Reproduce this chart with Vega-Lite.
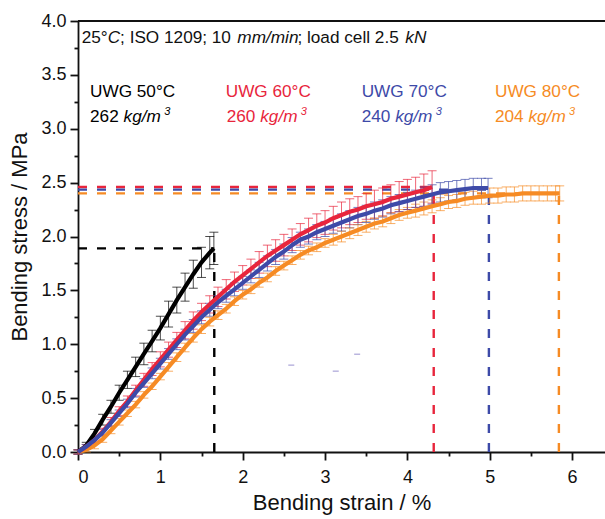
{
  "$schema": "https://vega.github.io/schema/vega-lite/v6.json",
  "width": 527,
  "height": 431,
  "autosize": {"type": "none"},
  "padding": {"left": 78, "top": 21, "right": 0, "bottom": 67},
  "background": "white",
  "config": {"view": {"stroke": null}, "font": "Liberation Sans"},
  "datasets": {
    "dashes": [
      {"series": "50", "x": 1.655, "x2": 1.655, "y": 0, "y2": 1.89},
      {"series": "50", "x": 0, "x2": 1.655, "y": 1.89, "y2": 1.89},
      {"series": "60", "x": 4.32, "x2": 4.32, "y": 0, "y2": 2.46},
      {"series": "60", "x": 0, "x2": 4.32, "y": 2.46, "y2": 2.46},
      {"series": "70", "x": 4.99, "x2": 4.99, "y": 0, "y2": 2.435},
      {"series": "70", "x": 0, "x2": 4.99, "y": 2.435, "y2": 2.435},
      {"series": "80", "x": 5.84, "x2": 5.84, "y": 0, "y2": 2.40},
      {"series": "80", "x": 0, "x2": 5.84, "y": 2.40, "y2": 2.40}
    ],
    "curves": [
      {"series": "50", "x": 0, "y": 0, "err": 0.02},
      {"series": "50", "x": 0.1, "y": 0.06, "err": 0.03},
      {"series": "50", "x": 0.2, "y": 0.17, "err": 0.04},
      {"series": "50", "x": 0.3, "y": 0.30, "err": 0.05},
      {"series": "50", "x": 0.4, "y": 0.42, "err": 0.06},
      {"series": "50", "x": 0.5, "y": 0.55, "err": 0.07},
      {"series": "50", "x": 0.6, "y": 0.67, "err": 0.08},
      {"series": "50", "x": 0.7, "y": 0.79, "err": 0.09},
      {"series": "50", "x": 0.8, "y": 0.91, "err": 0.10},
      {"series": "50", "x": 0.9, "y": 1.03, "err": 0.10},
      {"series": "50", "x": 1.0, "y": 1.15, "err": 0.11},
      {"series": "50", "x": 1.1, "y": 1.28, "err": 0.12},
      {"series": "50", "x": 1.2, "y": 1.41, "err": 0.12},
      {"series": "50", "x": 1.3, "y": 1.53, "err": 0.13},
      {"series": "50", "x": 1.4, "y": 1.65, "err": 0.13},
      {"series": "50", "x": 1.5, "y": 1.76, "err": 0.14},
      {"series": "50", "x": 1.6, "y": 1.85, "err": 0.15},
      {"series": "50", "x": 1.65, "y": 1.89, "err": 0.15},

      {"series": "80", "x": 0, "y": 0, "err": 0.02},
      {"series": "80", "x": 0.1, "y": 0.02, "err": 0.02},
      {"series": "80", "x": 0.2, "y": 0.06, "err": 0.03},
      {"series": "80", "x": 0.3, "y": 0.12, "err": 0.03},
      {"series": "80", "x": 0.4, "y": 0.20, "err": 0.03},
      {"series": "80", "x": 0.5, "y": 0.28, "err": 0.03},
      {"series": "80", "x": 0.6, "y": 0.36, "err": 0.03},
      {"series": "80", "x": 0.7, "y": 0.44, "err": 0.03},
      {"series": "80", "x": 0.8, "y": 0.53, "err": 0.03},
      {"series": "80", "x": 0.9, "y": 0.61, "err": 0.03},
      {"series": "80", "x": 1.0, "y": 0.70, "err": 0.03},
      {"series": "80", "x": 1.1, "y": 0.79, "err": 0.04},
      {"series": "80", "x": 1.2, "y": 0.88, "err": 0.04},
      {"series": "80", "x": 1.3, "y": 0.97, "err": 0.04},
      {"series": "80", "x": 1.4, "y": 1.06, "err": 0.04},
      {"series": "80", "x": 1.5, "y": 1.14, "err": 0.04},
      {"series": "80", "x": 1.6, "y": 1.21, "err": 0.04},
      {"series": "80", "x": 1.7, "y": 1.27, "err": 0.04},
      {"series": "80", "x": 1.8, "y": 1.33, "err": 0.04},
      {"series": "80", "x": 1.9, "y": 1.40, "err": 0.04},
      {"series": "80", "x": 2.0, "y": 1.46, "err": 0.04},
      {"series": "80", "x": 2.1, "y": 1.51, "err": 0.04},
      {"series": "80", "x": 2.2, "y": 1.57, "err": 0.04},
      {"series": "80", "x": 2.3, "y": 1.62, "err": 0.04},
      {"series": "80", "x": 2.4, "y": 1.68, "err": 0.04},
      {"series": "80", "x": 2.5, "y": 1.73, "err": 0.04},
      {"series": "80", "x": 2.6, "y": 1.78, "err": 0.04},
      {"series": "80", "x": 2.7, "y": 1.83, "err": 0.04},
      {"series": "80", "x": 2.8, "y": 1.87, "err": 0.04},
      {"series": "80", "x": 2.9, "y": 1.90, "err": 0.04},
      {"series": "80", "x": 3.0, "y": 1.94, "err": 0.04},
      {"series": "80", "x": 3.1, "y": 1.97, "err": 0.05},
      {"series": "80", "x": 3.2, "y": 2.00, "err": 0.05},
      {"series": "80", "x": 3.3, "y": 2.03, "err": 0.05},
      {"series": "80", "x": 3.4, "y": 2.06, "err": 0.05},
      {"series": "80", "x": 3.5, "y": 2.09, "err": 0.05},
      {"series": "80", "x": 3.6, "y": 2.12, "err": 0.05},
      {"series": "80", "x": 3.7, "y": 2.14, "err": 0.05},
      {"series": "80", "x": 3.8, "y": 2.17, "err": 0.05},
      {"series": "80", "x": 3.9, "y": 2.20, "err": 0.05},
      {"series": "80", "x": 4.0, "y": 2.22, "err": 0.05},
      {"series": "80", "x": 4.1, "y": 2.24, "err": 0.06},
      {"series": "80", "x": 4.2, "y": 2.26, "err": 0.06},
      {"series": "80", "x": 4.3, "y": 2.28, "err": 0.06},
      {"series": "80", "x": 4.4, "y": 2.30, "err": 0.06},
      {"series": "80", "x": 4.5, "y": 2.32, "err": 0.06},
      {"series": "80", "x": 4.6, "y": 2.33, "err": 0.06},
      {"series": "80", "x": 4.7, "y": 2.35, "err": 0.06},
      {"series": "80", "x": 4.8, "y": 2.36, "err": 0.06},
      {"series": "80", "x": 4.9, "y": 2.37, "err": 0.07},
      {"series": "80", "x": 5.0, "y": 2.38, "err": 0.07},
      {"series": "80", "x": 5.1, "y": 2.38, "err": 0.07},
      {"series": "80", "x": 5.2, "y": 2.39, "err": 0.07},
      {"series": "80", "x": 5.3, "y": 2.39, "err": 0.07},
      {"series": "80", "x": 5.4, "y": 2.40, "err": 0.07},
      {"series": "80", "x": 5.5, "y": 2.40, "err": 0.07},
      {"series": "80", "x": 5.6, "y": 2.40, "err": 0.07},
      {"series": "80", "x": 5.7, "y": 2.40, "err": 0.07},
      {"series": "80", "x": 5.8, "y": 2.40, "err": 0.07},
      {"series": "80", "x": 5.85, "y": 2.40, "err": 0.07},

      {"series": "60", "x": 0, "y": 0, "err": 0.02},
      {"series": "60", "x": 0.1, "y": 0.05, "err": 0.02},
      {"series": "60", "x": 0.2, "y": 0.11, "err": 0.03},
      {"series": "60", "x": 0.3, "y": 0.19, "err": 0.03},
      {"series": "60", "x": 0.4, "y": 0.28, "err": 0.04},
      {"series": "60", "x": 0.5, "y": 0.38, "err": 0.04},
      {"series": "60", "x": 0.6, "y": 0.47, "err": 0.05},
      {"series": "60", "x": 0.7, "y": 0.57, "err": 0.05},
      {"series": "60", "x": 0.8, "y": 0.67, "err": 0.06},
      {"series": "60", "x": 0.9, "y": 0.77, "err": 0.06},
      {"series": "60", "x": 1.0, "y": 0.86, "err": 0.07},
      {"series": "60", "x": 1.1, "y": 0.95, "err": 0.07},
      {"series": "60", "x": 1.2, "y": 1.04, "err": 0.07},
      {"series": "60", "x": 1.3, "y": 1.13, "err": 0.08},
      {"series": "60", "x": 1.4, "y": 1.22, "err": 0.08},
      {"series": "60", "x": 1.5, "y": 1.30, "err": 0.08},
      {"series": "60", "x": 1.6, "y": 1.37, "err": 0.08},
      {"series": "60", "x": 1.7, "y": 1.44, "err": 0.09},
      {"series": "60", "x": 1.8, "y": 1.51, "err": 0.09},
      {"series": "60", "x": 1.9, "y": 1.58, "err": 0.09},
      {"series": "60", "x": 2.0, "y": 1.64, "err": 0.09},
      {"series": "60", "x": 2.1, "y": 1.70, "err": 0.09},
      {"series": "60", "x": 2.2, "y": 1.76, "err": 0.10},
      {"series": "60", "x": 2.3, "y": 1.82, "err": 0.10},
      {"series": "60", "x": 2.4, "y": 1.87, "err": 0.10},
      {"series": "60", "x": 2.5, "y": 1.92, "err": 0.10},
      {"series": "60", "x": 2.6, "y": 1.97, "err": 0.10},
      {"series": "60", "x": 2.7, "y": 2.02, "err": 0.10},
      {"series": "60", "x": 2.8, "y": 2.06, "err": 0.11},
      {"series": "60", "x": 2.9, "y": 2.10, "err": 0.11},
      {"series": "60", "x": 3.0, "y": 2.13, "err": 0.11},
      {"series": "60", "x": 3.1, "y": 2.17, "err": 0.11},
      {"series": "60", "x": 3.2, "y": 2.20, "err": 0.12},
      {"series": "60", "x": 3.3, "y": 2.23, "err": 0.12},
      {"series": "60", "x": 3.4, "y": 2.25, "err": 0.12},
      {"series": "60", "x": 3.5, "y": 2.28, "err": 0.12},
      {"series": "60", "x": 3.6, "y": 2.30, "err": 0.13},
      {"series": "60", "x": 3.7, "y": 2.32, "err": 0.13},
      {"series": "60", "x": 3.8, "y": 2.35, "err": 0.13},
      {"series": "60", "x": 3.9, "y": 2.37, "err": 0.14},
      {"series": "60", "x": 4.0, "y": 2.39, "err": 0.14},
      {"series": "60", "x": 4.1, "y": 2.41, "err": 0.14},
      {"series": "60", "x": 4.2, "y": 2.43, "err": 0.15},
      {"series": "60", "x": 4.3, "y": 2.46, "err": 0.15},

      {"series": "70", "x": 0, "y": 0, "err": 0.02},
      {"series": "70", "x": 0.1, "y": 0.05, "err": 0.02},
      {"series": "70", "x": 0.2, "y": 0.11, "err": 0.02},
      {"series": "70", "x": 0.3, "y": 0.18, "err": 0.03},
      {"series": "70", "x": 0.4, "y": 0.27, "err": 0.03},
      {"series": "70", "x": 0.5, "y": 0.36, "err": 0.03},
      {"series": "70", "x": 0.6, "y": 0.45, "err": 0.04},
      {"series": "70", "x": 0.7, "y": 0.55, "err": 0.04},
      {"series": "70", "x": 0.8, "y": 0.64, "err": 0.04},
      {"series": "70", "x": 0.9, "y": 0.73, "err": 0.05},
      {"series": "70", "x": 1.0, "y": 0.82, "err": 0.05},
      {"series": "70", "x": 1.1, "y": 0.91, "err": 0.05},
      {"series": "70", "x": 1.2, "y": 1.00, "err": 0.05},
      {"series": "70", "x": 1.3, "y": 1.09, "err": 0.05},
      {"series": "70", "x": 1.4, "y": 1.17, "err": 0.06},
      {"series": "70", "x": 1.5, "y": 1.25, "err": 0.06},
      {"series": "70", "x": 1.6, "y": 1.32, "err": 0.06},
      {"series": "70", "x": 1.7, "y": 1.39, "err": 0.06},
      {"series": "70", "x": 1.8, "y": 1.45, "err": 0.06},
      {"series": "70", "x": 1.9, "y": 1.51, "err": 0.06},
      {"series": "70", "x": 2.0, "y": 1.57, "err": 0.06},
      {"series": "70", "x": 2.1, "y": 1.63, "err": 0.06},
      {"series": "70", "x": 2.2, "y": 1.69, "err": 0.07},
      {"series": "70", "x": 2.3, "y": 1.75, "err": 0.07},
      {"series": "70", "x": 2.4, "y": 1.81, "err": 0.07},
      {"series": "70", "x": 2.5, "y": 1.86, "err": 0.07},
      {"series": "70", "x": 2.6, "y": 1.92, "err": 0.07},
      {"series": "70", "x": 2.7, "y": 1.97, "err": 0.07},
      {"series": "70", "x": 2.8, "y": 2.00, "err": 0.07},
      {"series": "70", "x": 2.9, "y": 2.04, "err": 0.07},
      {"series": "70", "x": 3.0, "y": 2.07, "err": 0.07},
      {"series": "70", "x": 3.1, "y": 2.10, "err": 0.07},
      {"series": "70", "x": 3.2, "y": 2.13, "err": 0.08},
      {"series": "70", "x": 3.3, "y": 2.16, "err": 0.08},
      {"series": "70", "x": 3.4, "y": 2.19, "err": 0.08},
      {"series": "70", "x": 3.5, "y": 2.21, "err": 0.08},
      {"series": "70", "x": 3.6, "y": 2.24, "err": 0.08},
      {"series": "70", "x": 3.7, "y": 2.26, "err": 0.08},
      {"series": "70", "x": 3.8, "y": 2.29, "err": 0.08},
      {"series": "70", "x": 3.9, "y": 2.31, "err": 0.08},
      {"series": "70", "x": 4.0, "y": 2.33, "err": 0.08},
      {"series": "70", "x": 4.1, "y": 2.35, "err": 0.08},
      {"series": "70", "x": 4.2, "y": 2.37, "err": 0.09},
      {"series": "70", "x": 4.3, "y": 2.39, "err": 0.09},
      {"series": "70", "x": 4.4, "y": 2.41, "err": 0.09},
      {"series": "70", "x": 4.5, "y": 2.42, "err": 0.09},
      {"series": "70", "x": 4.6, "y": 2.43, "err": 0.09},
      {"series": "70", "x": 4.7, "y": 2.44, "err": 0.09},
      {"series": "70", "x": 4.8, "y": 2.45, "err": 0.09},
      {"series": "70", "x": 4.9, "y": 2.45, "err": 0.09},
      {"series": "70", "x": 4.98, "y": 2.45, "err": 0.09}
    ],
    "notesRegular": [
      {"series": "note", "text": "25°", "x": 0.045, "y": 3.793},
      {"series": "note", "text": "; ISO 1209; 10", "x": 0.511, "y": 3.793},
      {"series": "note", "text": "; load cell 2.5", "x": 2.665, "y": 3.793},
      {"series": "50", "text": "UWG 50°C", "x": 0.146, "y": 3.297},
      {"series": "60", "text": "UWG 60°C", "x": 1.794, "y": 3.297},
      {"series": "70", "text": "UWG 70°C", "x": 3.445, "y": 3.297},
      {"series": "80", "text": "UWG 80°C", "x": 5.064, "y": 3.297},
      {"series": "50", "text": "262", "x": 0.146, "y": 3.065},
      {"series": "60", "text": "260", "x": 1.806, "y": 3.065},
      {"series": "70", "text": "240", "x": 3.445, "y": 3.065},
      {"series": "80", "text": "204", "x": 5.064, "y": 3.065}
    ],
    "notesItalic": [
      {"series": "note", "text": "C", "x": 0.361, "y": 3.793},
      {"series": "note", "text": "mm/min", "x": 1.935, "y": 3.793},
      {"series": "note", "text": "kN", "x": 3.975, "y": 3.793},
      {"series": "50", "text": "kg/m", "x": 0.553, "y": 3.065},
      {"series": "60", "text": "kg/m", "x": 2.213, "y": 3.065},
      {"series": "70", "text": "kg/m", "x": 3.852, "y": 3.065},
      {"series": "80", "text": "kg/m", "x": 5.471, "y": 3.065}
    ],
    "notesSup": [
      {"series": "50", "text": "3", "x": 1.046, "y": 3.128},
      {"series": "60", "text": "3", "x": 2.706, "y": 3.128},
      {"series": "70", "text": "3", "x": 4.345, "y": 3.128},
      {"series": "80", "text": "3", "x": 5.964, "y": 3.128}
    ],
    "specks": [
      {"x": 2.59, "y": 0.806},
      {"x": 3.13, "y": 0.75},
      {"x": 3.39, "y": 0.907}
    ],
    "frame": [
      {"x": 0, "x2": 6.4, "y": 4}
    ]
  },
  "encoding": {
    "x": {
      "field": "x", "type": "quantitative",
      "scale": {"domain": [0, 6.4], "nice": false, "zero": false},
      "axis": {
        "title": "Bending strain / %",
        "values": [0, 0.5, 1, 1.5, 2, 2.5, 3, 3.5, 4, 4.5, 5, 5.5, 6],
        "labelExpr": "datum.value % 1 === 0 ? format(datum.value, 'd') : ''",
        "tickSize": 8,
        "tickDash": {"condition": {"test": "datum.value % 1 === 0", "value": [8, 0]}, "value": [4, 20]},
        "grid": false, "labelOverlap": false,
        "domainColor": "#111111", "domainWidth": 1.8,
        "tickColor": "#111111", "tickWidth": 1.8,
        "labelFont": "Liberation Sans", "labelFontSize": 18, "labelColor": "#111111", "labelPadding": 8,
        "titleFont": "Liberation Sans", "titleFontSize": 22, "titleFontWeight": "normal", "titleColor": "#111111", "titlePadding": 6
      }
    },
    "y": {
      "field": "y", "type": "quantitative",
      "scale": {"domain": [0, 4], "nice": false, "zero": false},
      "axis": {
        "title": "Bending stress / MPa",
        "values": [0, 0.25, 0.5, 0.75, 1, 1.25, 1.5, 1.75, 2, 2.25, 2.5, 2.75, 3, 3.25, 3.5, 3.75, 4],
        "labelExpr": "datum.value % 0.5 === 0 ? format(datum.value, '.1f') : ''",
        "tickSize": 8,
        "tickDash": {"condition": {"test": "datum.value % 0.5 === 0", "value": [8, 0]}, "value": [4, 20]},
        "grid": false, "labelOverlap": false,
        "domainColor": "#111111", "domainWidth": 1.8,
        "tickColor": "#111111", "tickWidth": 1.8,
        "labelFont": "Liberation Sans", "labelFontSize": 18, "labelColor": "#111111", "labelPadding": 4,
        "titleFont": "Liberation Sans", "titleFontSize": 22, "titleFontWeight": "normal", "titleColor": "#111111", "titlePadding": 9
      }
    },
    "color": {
      "field": "series", "type": "nominal",
      "scale": {"domain": ["50", "60", "70", "80", "note"], "range": ["#000000", "#e8253c", "#3d4aa8", "#f68b24", "#111111"]},
      "legend": null
    }
  },
  "layer": [
    {
      "data": {"name": "dashes"},
      "mark": {"type": "rule", "strokeDash": [9, 10], "strokeWidth": 2.4},
      "encoding": {
        "x2": {"field": "x2"},
        "y2": {"field": "y2"}
      }
    },
    {
      "data": {"name": "curves"},
      "mark": {"type": "errorbar", "ticks": true, "size": 9, "thickness": 1, "opacity": 0.7},
      "encoding": {
        "yError": {"field": "err"}
      }
    },
    {
      "data": {"name": "curves"},
      "mark": {"type": "line", "strokeWidth": 4.2}
    },
    {
      "data": {"name": "specks"},
      "mark": {"type": "tick", "orient": "horizontal", "size": 6, "thickness": 1.5},
      "encoding": {
        "color": {"value": "#9d96d2"}
      }
    },
    {
      "data": {"name": "notesRegular"},
      "mark": {"type": "text", "align": "left", "baseline": "alphabetic", "fontSize": 17.2, "font": "Liberation Sans"},
      "encoding": {
        "text": {"field": "text"}
      }
    },
    {
      "data": {"name": "notesItalic"},
      "mark": {"type": "text", "align": "left", "baseline": "alphabetic", "fontSize": 17.2, "fontStyle": "italic", "font": "Liberation Sans"},
      "encoding": {
        "text": {"field": "text"}
      }
    },
    {
      "data": {"name": "notesSup"},
      "mark": {"type": "text", "align": "left", "baseline": "alphabetic", "fontSize": 11, "fontStyle": "italic", "font": "Liberation Sans"},
      "encoding": {
        "text": {"field": "text"}
      }
    },
    {
      "data": {"name": "frame"},
      "mark": {"type": "rule", "strokeWidth": 1.8},
      "encoding": {
        "x2": {"field": "x2"},
        "color": {"value": "#111111"}
      }
    }
  ]
}
